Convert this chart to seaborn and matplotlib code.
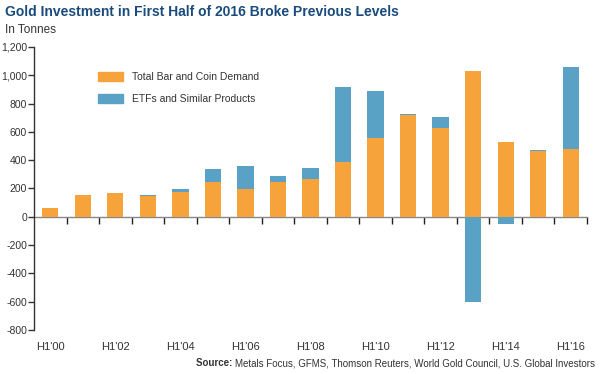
import numpy as np
import pandas as pd
import matplotlib
matplotlib.use("Agg")
import matplotlib.pyplot as plt
import matplotlib.patches as mpatches
from matplotlib.ticker import FuncFormatter, FixedLocator
import seaborn as sns

periods = ["H1'00", "H1'01", "H1'02", "H1'03", "H1'04", "H1'05", "H1'06", "H1'07", "H1'08",
           "H1'09", "H1'10", "H1'11", "H1'12", "H1'13", "H1'14", "H1'15", "H1'16"]
bar_coin = [61, 151, 170, 144, 177, 245, 198, 245, 266, 389, 554, 719, 630, 1030, 530, 464, 481]
etfs = [0, 0, 0, 9, 21, 92, 160, 45, 78, 526, 333, 10, 77, -605, -49, 10, 580]
shown_labels = periods[::2]

ORANGE = "#F7A33B"
BLUE = "#5AA2C5"
TITLE_BLUE = "#1A4B7C"
TXT = "#333333"

df = pd.DataFrame({"period": periods, "bar": bar_coin, "etf": etfs})
# blue layer: stacked on top of bar demand when positive, from zero down when negative
df["etf_top"] = np.where(df.etf > 0, df.bar + df.etf, df.etf)

sns.set_style("white")
plt.rcParams["font.family"] = ["Liberation Sans", "DejaVu Sans"]

fig = plt.figure(figsize=(6.0, 3.74), dpi=100)
ax = fig.add_axes([34 / 600, 1 - 330 / 374, 553 / 600, 283 / 374])

sns.barplot(data=df, x="period", y="etf_top", color=BLUE, width=0.5, saturation=1,
            ax=ax, linewidth=0)
sns.barplot(data=df, x="period", y="bar", color=ORANGE, width=0.5, saturation=1,
            ax=ax, linewidth=0)

ax.set_xlim(-0.5, len(periods) - 0.5)
ax.set_ylim(-800, 1200)
ax.set_xlabel("")
ax.set_ylabel("")

# y axis
ax.yaxis.set_major_locator(FixedLocator(range(-800, 1201, 200)))
ax.yaxis.set_major_formatter(FuncFormatter(lambda v, p: f"{v:,.0f}"))
ax.tick_params(axis="y", direction="out", length=4, width=1, color=TXT,
               labelsize=7.5, labelcolor=TXT, pad=1, left=True)
for s in ["top", "right", "bottom"]:
    ax.spines[s].set_visible(False)
ax.spines["left"].set_color(TXT)
ax.spines["left"].set_linewidth(1)

# category labels along the bottom
ax.set_xticks(range(0, len(periods), 2))
ax.set_xticklabels(shown_labels)
ax.tick_params(axis="x", length=0, labelsize=8, labelcolor=TXT, pad=9)

# zero line with boundary ticks
zero = ax.secondary_xaxis(800 / 2000)
zero.set_xticks([i + 0.5 for i in range(len(periods))])
zero.set_xticklabels([])
zero.tick_params(direction="out", length=5, width=1, color="#222222")
zero.spines["bottom"].set_color("#888888")
zero.spines["bottom"].set_linewidth(1)

handles = [mpatches.Patch(color=ORANGE, label="Total Bar and Coin Demand"),
           mpatches.Patch(color=BLUE, label="ETFs and Similar Products")]
ax.legend(handles=handles, loc="upper left", bbox_to_anchor=(0.098, 0.945), frameon=False,
          fontsize=7.5, handlelength=2.4, handleheight=0.9, labelspacing=1.15, handletextpad=0.9,
          labelcolor=TXT)

fig.text(5 / 600, 1 - 12 / 374, "Gold Investment in First Half of 2016 Broke Previous Levels",
         fontsize=10, fontweight="bold", color=TITLE_BLUE, va="center", ha="left")
fig.text(5 / 600, 1 - 30 / 374, "In Tonnes", fontsize=8.5, color=TXT, va="center", ha="left")
src = fig.text(595 / 600, 1 - 363 / 374,
               "Metals Focus, GFMS, Thomson Reuters, World Gold Council, U.S. Global Investors",
               fontsize=7, color=TXT, va="center", ha="right")
fig.add_artist(plt.Annotation("Source: ", xy=(0, 0.5), xycoords=src, ha="right", va="center",
                              fontsize=7, fontweight="bold", color=TXT))

fig.savefig("out.png", dpi=100)
